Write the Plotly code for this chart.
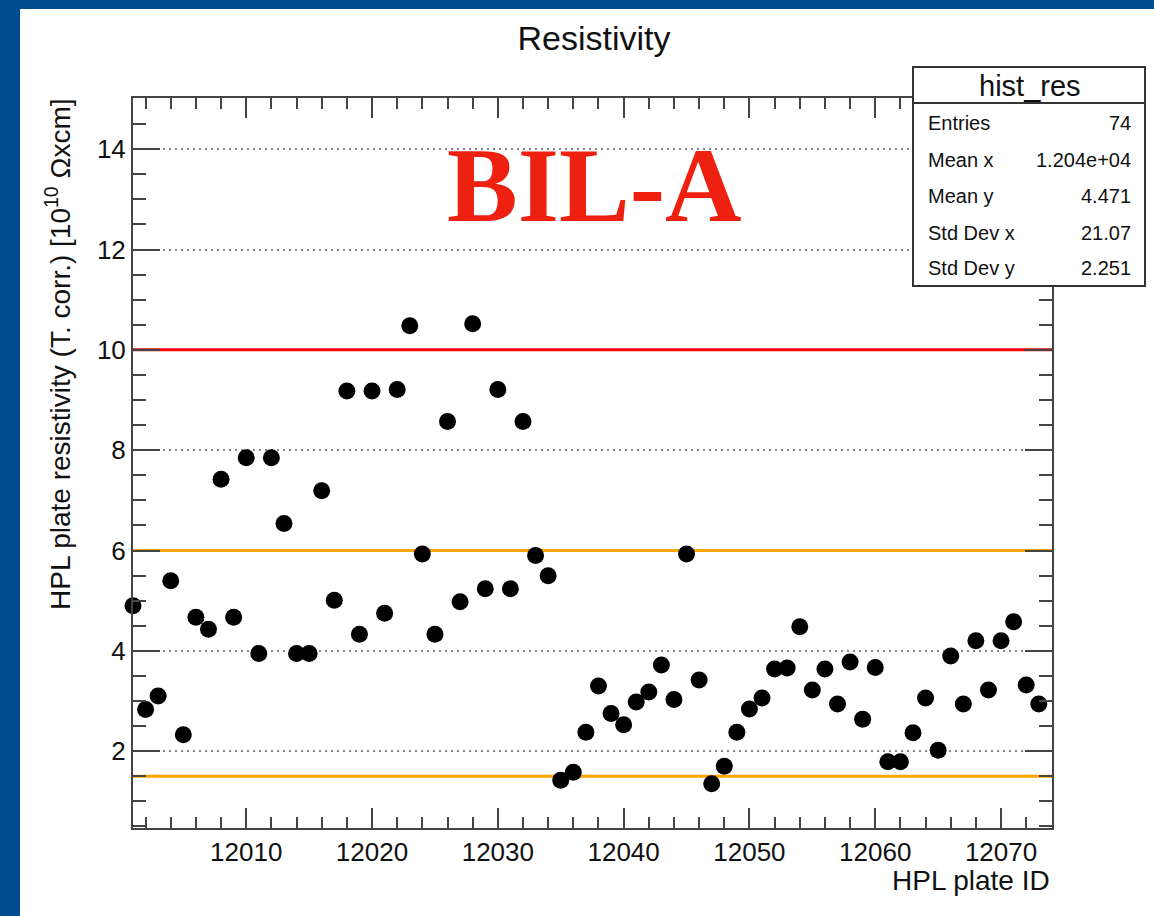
import plotly.graph_objects as go

# ---------------- data ----------------
plate_id = [12001, 12002, 12003, 12004, 12005, 12006, 12007, 12008, 12009, 12010,
            12011, 12012, 12013, 12014, 12015, 12016, 12017, 12018, 12019, 12020,
            12021, 12022, 12023, 12024, 12025, 12026, 12027, 12028, 12029, 12030,
            12031, 12032, 12033, 12034, 12035, 12036, 12037, 12038, 12039, 12040,
            12041, 12042, 12043, 12044, 12045, 12046, 12047, 12048, 12049, 12050,
            12051, 12052, 12053, 12054, 12055, 12056, 12057, 12058, 12059, 12060,
            12061, 12062, 12063, 12064, 12065, 12066, 12067, 12068, 12069, 12070,
            12071, 12072, 12073]
resistivity = [4.90, 2.83, 3.10, 5.40, 2.33, 4.67, 4.43, 7.42, 4.67, 7.85,
               3.95, 7.85, 6.54, 3.95, 3.95, 7.19, 5.01, 9.18, 4.33, 9.18,
               4.75, 9.21, 10.48, 5.93, 4.33, 8.57, 4.98, 10.52, 5.24, 9.21,
               5.24, 8.57, 5.90, 5.50, 1.42, 1.58, 2.38, 3.30, 2.75, 2.53,
               2.98, 3.18, 3.72, 3.03, 5.93, 3.42, 1.35, 1.70, 2.38, 2.84,
               3.06, 3.64, 3.66, 4.48, 3.22, 3.64, 2.94, 3.78, 2.64, 3.67,
               1.79, 1.79, 2.37, 3.06, 2.02, 3.90, 2.94, 4.20, 3.22, 4.20,
               4.58, 3.32, 2.94]

limit_values = [10.0, 6.0, 1.5]
limit_colors = ["#ff0000", "#ffa500", "#ffa500"]

stats_title = "hist_res"
stats_labels = ["Entries", "Mean x", "Mean y", "Std Dev x", "Std Dev y"]
stats_values = ["74", "1.204e+04", "4.471", "21.07", "2.251"]

x_range = [12001, 12074.05]
y_range = [0.47, 15.02]

# ---------------- layout geometry (pixels) ----------------
W, H = 1154, 916
L, R, T, B = 133, 1052, 98, 828
PW, PH = R - L, B - T


def px(xp):
    return (xp - L) / PW


def py(yp):
    return (B - yp) / PH


FONT = "Liberation Sans, Arial, Helvetica, sans-serif"
AXC = "#444444"

fig = go.Figure()
# horizontal limit lines (drawn first so the markers sit on top)
for v, c in zip(limit_values, limit_colors):
    fig.add_trace(go.Scatter(
        x=x_range, y=[v, v], mode="lines",
        line=dict(color=c, width=3), hoverinfo="skip", showlegend=False,
    ))
fig.add_trace(go.Scatter(
    x=plate_id, y=resistivity, mode="markers",
    marker=dict(size=17, color="black"),
    cliponaxis=False, showlegend=False,
))

shapes = []
# white canvas inside blue frame
shapes.append(dict(type="rect", xref="paper", yref="paper",
                   x0=px(20), x1=px(W + 5), y0=py(H + 5), y1=py(9),
                   fillcolor="white", line=dict(width=0), layer="below"))
# stats box
shapes.append(dict(type="rect", xref="paper", yref="paper",
                   x0=px(913), x1=px(1145), y0=py(286), y1=py(67),
                   fillcolor="white", line=dict(color="#333333", width=2),
                   layer="above"))
shapes.append(dict(type="line", xref="paper", yref="paper",
                   x0=px(913), x1=px(1145), y0=py(103), y1=py(103),
                   line=dict(color="#333333", width=2), layer="above"))

annotations = []
annotations.append(dict(text="BIL-A", xref="paper", yref="paper",
                        x=px(594), y=py(186), xanchor="center", yanchor="middle",
                        showarrow=False,
                        font=dict(family="Liberation Serif, Times New Roman, serif",
                                  size=106, color="#ee2010", weight="bold")))
annotations.append(dict(text=stats_title, xref="paper", yref="paper",
                        x=px(1030), y=py(86), xanchor="center", yanchor="middle",
                        showarrow=False, font=dict(family=FONT, size=29, color="#111")))
row_y = [123, 160, 196, 233, 268]
for lab, val, yy in zip(stats_labels, stats_values, row_y):
    annotations.append(dict(text=lab, xref="paper", yref="paper",
                            x=px(926), y=py(yy), xanchor="left", yanchor="middle",
                            showarrow=False, font=dict(family=FONT, size=20, color="#111")))
    annotations.append(dict(text=val, xref="paper", yref="paper",
                            x=px(1133), y=py(yy), xanchor="right", yanchor="middle",
                            showarrow=False, font=dict(family=FONT, size=20, color="#111")))
annotations.append(dict(text="HPL plate resistivity (T. corr.) [10<sup>10</sup> Ωxcm]",
                        xref="paper", yref="paper", x=px(58), y=py(96),
                        xanchor="center", yanchor="top", textangle=-90,
                        showarrow=False, font=dict(family=FONT, size=28, color="#111")))
annotations.append(dict(text="HPL plate ID", xref="paper", yref="paper",
                        x=1.0, y=py(880), xanchor="right", yanchor="middle",
                        showarrow=False, font=dict(family=FONT, size=28, color="#111")))

fig.update_layout(
    width=W, height=H,
    margin=dict(l=L, r=W - R, t=T, b=H - B, pad=0),
    paper_bgcolor="#004c92", plot_bgcolor="white",
    title=dict(text="Resistivity", x=594 / W, xref="container", xanchor="center",
               y=1 - 38 / H, yref="container", yanchor="middle",
               font=dict(family=FONT, size=34, color="#111")),
    shapes=shapes, annotations=annotations,
    xaxis=dict(range=x_range, showline=True, linecolor=AXC, linewidth=2,
               mirror="allticks", ticks="inside", ticklen=20, tickwidth=2, tickcolor=AXC,
               tick0=12000, dtick=10, tickformat="d", showgrid=False, zeroline=False,
               tickfont=dict(family=FONT, size=26, color="#111"),
               minor=dict(ticks="inside", ticklen=11, tickwidth=2, tickcolor=AXC,
                          dtick=2, tick0=12000, showgrid=False)),
    yaxis=dict(range=y_range, showline=True, linecolor=AXC, linewidth=2,
               mirror="allticks", ticks="inside", ticklen=27, tickwidth=2, tickcolor=AXC,
               tick0=0, dtick=2, showgrid=True, gridcolor="#888888", gridwidth=2,
               griddash="2px,4px", zeroline=False,
               tickfont=dict(family=FONT, size=26, color="#111"),
               minor=dict(ticks="inside", ticklen=13, tickwidth=2, tickcolor=AXC,
                          dtick=0.5, tick0=0, showgrid=False)),
)

fig.write_html("out.html")
